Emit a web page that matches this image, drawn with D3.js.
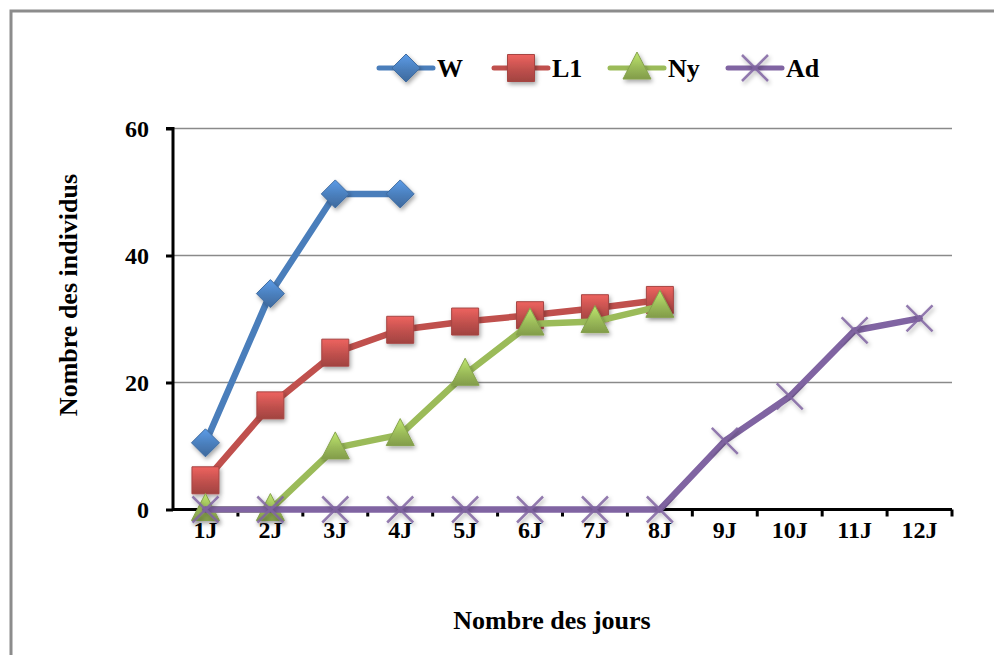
<!DOCTYPE html>
<html><head><meta charset="utf-8">
<script src="https://cdn.jsdelivr.net/npm/d3@7/dist/d3.min.js"></script>
<style>body{margin:0;background:#fff}svg{display:block}text{font-family:"Liberation Serif","Times New Roman",serif;font-weight:bold;fill:#000}</style>
</head><body><svg id="c" width="994" height="655"></svg>
<script>
const categories = ["1J","2J","3J","4J","5J","6J","7J","8J","9J","10J","11J","12J"];
const seriesNames = ["W","L1","Ny","Ad"];
const valuesW  = [10.5, 34.0, 49.7, 49.7, null, null, null, null, null, null, null, null];
const valuesL1 = [4.6, 16.4, 24.7, 28.3, 29.6, 30.6, 31.7, 33.0, null, null, null, null];
const valuesNy = [0, 0, 9.7, 11.8, 21.3, 29.2, 29.6, 32.0, null, null, null, null];
const valuesAd = [0, 0, 0, 0, 0, 0, 0, 0, 10.8, 17.8, 28.2, 30.1];
const yTicks = [0, 20, 40, 60];
const colors = ["#4a7ebb","#c0504d","#9bbb59","#8064a2"];
const markers = ["diamond","square","triangle","x"];
const xTitle = "Nombre des jours";
const yTitle = "Nombre des individus";

const svg = d3.select("#c");
const defs = svg.append("defs");
const f = defs.append("filter").attr("id","sh").attr("x","-50%").attr("y","-50%").attr("width","200%").attr("height","200%");
f.append("feDropShadow").attr("dx",1.5).attr("dy",2.5).attr("stdDeviation",2).attr("flood-color","#000").attr("flood-opacity",0.35);
colors.forEach((c,i)=>{
  const g = defs.append("linearGradient").attr("id","g"+i).attr("x1",0).attr("y1",0).attr("x2",0).attr("y2",1);
  g.append("stop").attr("offset","0%").attr("stop-color",d3.color(c).brighter(0.6));
  g.append("stop").attr("offset","55%").attr("stop-color",c);
  g.append("stop").attr("offset","100%").attr("stop-color",d3.color(c).darker(0.5));
});

// outer frame
svg.append("rect").attr("x",11).attr("y",11).attr("width",1100).attr("height",1000)
  .attr("fill","none").attr("stroke","#8c8c8c").attr("stroke-width",3);

const pLeft = 173, pRight = 952, pTop = 128.5, pBottom = 509.5;
const x = d3.scaleBand().domain(categories).range([pLeft,pRight]);
const y = d3.scaleLinear().domain([0,60]).range([pBottom,pTop]);

// gridlines
svg.append("g").selectAll("line").data(yTicks.filter(d=>d>0)).join("line")
  .attr("x1",pLeft).attr("x2",pRight).attr("y1",d=>y(d)).attr("y2",d=>y(d))
  .attr("stroke","#8a8a8a").attr("stroke-width",1.5);

// y axis
const ya = svg.append("g").attr("transform",`translate(${pLeft},0)`)
  .call(d3.axisLeft(y).tickValues(yTicks).tickSize(7).tickPadding(17));
ya.select(".domain").attr("stroke","#000").attr("stroke-width",3).attr("d",`M-7,${pTop}H0V${pBottom}`);
ya.selectAll(".tick line").attr("stroke","#000").attr("stroke-width",3);
ya.selectAll("text").attr("font-size",24).attr("font-family","Liberation Serif").attr("font-weight","bold").attr("fill","#000");

// x axis
const xa = svg.append("g").attr("transform",`translate(0,${pBottom})`)
  .call(d3.axisBottom(x).tickSize(0).tickPadding(11));
xa.select(".domain").attr("stroke","#000").attr("stroke-width",3).attr("d",`M${pLeft},0H${pRight}`);
xa.selectAll("text").attr("font-size",24).attr("font-family","Liberation Serif").attr("font-weight","bold").attr("fill","#000");
const bounds = categories.map(c=>x(c)).concat([pRight]);
svg.append("g").selectAll("line").data(bounds.slice(1)).join("line")
  .attr("x1",d=>d).attr("x2",d=>d).attr("y1",pBottom).attr("y2",pBottom+7)
  .attr("stroke","#000").attr("stroke-width",3);

// titles
svg.append("text").attr("x",552).attr("y",629).attr("text-anchor","middle").attr("font-size",26).text(xTitle);
svg.append("text").attr("transform","translate(77,295) rotate(-90)").attr("text-anchor","middle").attr("font-size",26).text(yTitle);

function markerPath(type){
  if(type==="diamond") return "M0,-14L14,0L0,14L-14,0Z";
  if(type==="square") return "M-13.5,-13.5H13.5V13.5H-13.5Z";
  if(type==="triangle") return "M0,-16L14,11H-14Z";
  return null;
}
function drawMarker(g, type, i, cx, cy){
  const m = g.append("g").attr("transform",`translate(${cx},${cy})`).attr("filter","url(#sh)");
  if(type==="x"){
    m.append("path").attr("d","M-13,-13L13,13M-13,13L13,-13").attr("stroke",colors[i]).attr("stroke-width",2.5).attr("opacity",0.85);
  } else {
    m.append("path").attr("d",markerPath(type)).attr("fill",`url(#g${i})`).attr("stroke",d3.color(colors[i]).darker(0.4)).attr("stroke-width",1);
  }
}

const allSeries = [valuesW, valuesL1, valuesNy, valuesAd];
const line = d3.line().defined(d=>d.v!==null).x(d=>x(d.c)+x.bandwidth()/2).y(d=>y(d.v));
allSeries.forEach((vals,i)=>{
  const data = categories.map((c,k)=>({c, v: vals[k]}));
  const g = svg.append("g");
  g.append("path").datum(data).attr("d",line).attr("fill","none").attr("stroke",colors[i])
    .attr("stroke-width",6.5).attr("stroke-linejoin","round").attr("stroke-linecap","round");
  data.filter(d=>d.v!==null).forEach(d=>drawMarker(g, markers[i], i, x(d.c)+x.bandwidth()/2, y(d.v)));
});

// legend
const legX = [379, 494, 610, 728];
seriesNames.forEach((n,i)=>{
  const g = svg.append("g");
  g.append("line").attr("x1",legX[i]).attr("x2",legX[i]+54).attr("y1",68).attr("y2",68)
    .attr("stroke",colors[i]).attr("stroke-width",5).attr("stroke-linecap","round");
  drawMarker(g, markers[i], i, legX[i]+27, 68);
  g.append("text").attr("x",legX[i]+58).attr("y",77).attr("font-size",26).text(n);
});
</script></body></html>
